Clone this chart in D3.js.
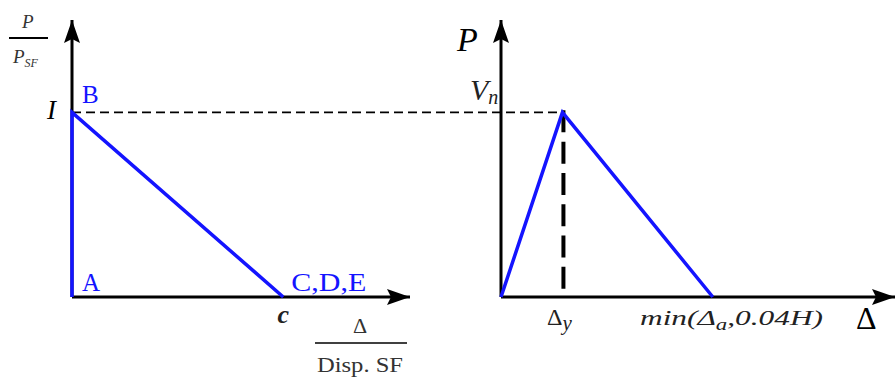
<!DOCTYPE html>
<html>
<head>
<meta charset="utf-8">
<script src="https://cdn.jsdelivr.net/npm/d3@7"></script>
<style>
  body { margin: 0; background: #fff; }
</style>
</head>
<body>
<svg class="chart" width="896" height="380"></svg>
<script>
// left panel: normalized backbone P/P_SF vs Δ/Disp.SF
const leftPoints = [[0, 0], [0, 1], [1, 0]]
const leftLabels = [
  { text: 'A', x: 0, y: 0 },
  { text: 'B', x: 0, y: 1 },
  { text: 'C,D,E', x: 1, y: 0 },
]
// right panel: shear force vs displacement (Δy, Vn) -> min(Δa, 0.04H)
const rightPoints = [[0, 0], [0.29, 1], [1, 0]]

const BLUE = '#1414ff'
const svg = d3.select('svg.chart')
  .attr('font-family', "'Times New Roman', Times, 'Liberation Serif', 'DejaVu Serif', serif")

const xL = d3.scaleLinear().domain([0, 1.6]).range([72, 410])
const yL = d3.scaleLinear().domain([0, 1.5]).range([297, 20])
const xR = d3.scaleLinear().domain([0, 1.86]).range([501, 895])
const yR = yL

function arrowAxis(x0, y0, x1, y1) {
  svg.append('line')
    .attr('x1', x0).attr('y1', y0)
    .attr('x2', x1).attr('y2', y1)
    .style('stroke', '#000').style('stroke-width', 3)
  // arrow head
  const dx = x1 - x0, dy = y1 - y0
  const len = Math.hypot(dx, dy)
  const ux = dx / len, uy = dy / len
  const L = 23, W = 8
  const bx = x1 - ux * L, by = y1 - uy * L
  svg.append('path')
    .attr('d', `M${x1},${y1} L${bx - uy * W},${by + ux * W} L${bx + ux * 4},${by + uy * 4} L${bx + uy * W},${by - ux * W} Z`)
    .style('fill', '#000')
}

// dashed reference line at peak load, across both panels
svg.append('line')
  .attr('x1', xL(0)).attr('y1', yL(1))
  .attr('x2', xR(rightPoints[1][0])).attr('y2', yR(1))
  .style('stroke', '#000').style('stroke-width', 1.6)
  .style('stroke-dasharray', '9,5')

// axes
arrowAxis(xL(0), yL(0), xL(1.6), yL(0))
arrowAxis(xL(0), yL(0), xL(0), yL(1.5))
arrowAxis(xR(0), yR(0), xR(1.86), yR(0))
arrowAxis(xR(0), yR(0), xR(0), yR(1.5))

// vertical dashed line under the peak
svg.append('line')
  .attr('x1', xR(rightPoints[1][0]) + 1).attr('y1', yR(1) - 2)
  .attr('x2', xR(rightPoints[1][0]) + 1).attr('y2', yR(0) - 8)
  .style('stroke', '#000').style('stroke-width', 4)
  .style('stroke-dasharray', '22,9.3')

const line = (xs, ys) => d3.line().x(d => xs(d[0])).y(d => ys(d[1]))

svg.append('path')
  .datum(leftPoints)
  .attr('d', line(xL, yL))
  .style('fill', 'none').style('stroke', BLUE).style('stroke-width', 3.5)

svg.append('path')
  .datum(rightPoints)
  .attr('d', line(xR, yR))
  .style('fill', 'none').style('stroke', BLUE).style('stroke-width', 3.5)
  .style('stroke-linejoin', 'miter')

// left point labels
svg.selectAll('.pt-label')
  .data(leftLabels)
  .enter()
  .append('text')
  .attr('class', 'pt-label')
  .attr('x', d => xL(d.x) + (d.text === 'C,D,E' ? 8 : 10))
  .attr('y', d => yL(d.y) - (d.text === 'B' ? 9 : 6))
  .attr('textLength', d => d.text === 'C,D,E' ? 75 : null)
  .attr('lengthAdjust', 'spacingAndGlyphs')
  .style('fill', BLUE)
  .style('font-size', '25px')
  .text(d => d.text)

// left y tick "1"
svg.append('text')
  .attr('x', 47).attr('y', yL(1) + 7)
  .style('font-size', '27px').style('font-style', 'italic')
  .text('I')

// left x tick "c"
svg.append('text')
  .attr('x', xL(1)).attr('y', 323)
  .attr('text-anchor', 'middle')
  .style('font-size', '26px').style('font-style', 'italic').style('font-weight', 'bold')
  .style('fill', '#222')
  .text('c')

// left y axis title P / P_SF
svg.append('text')
  .attr('x', 22).attr('y', 28)
  .style('font-size', '19px').style('font-style', 'italic').style('fill', '#333')
  .text('P')
svg.append('line')
  .attr('x1', 9).attr('y1', 38).attr('x2', 48).attr('y2', 38)
  .style('stroke', '#000').style('stroke-width', 2)
const psf = svg.append('text')
  .attr('x', 13).attr('y', 63)
  .style('font-size', '19px').style('font-style', 'italic').style('fill', '#333')
psf.append('tspan').text('P')
psf.append('tspan').attr('dy', 4).style('font-size', '12px').text('SF')

// left x axis title Δ / Disp. SF
svg.append('text')
  .attr('x', 360).attr('y', 333)
  .attr('text-anchor', 'middle')
  .style('font-size', '22px').style('fill', '#333')
  .text('Δ')
svg.append('line')
  .attr('x1', 315).attr('y1', 343).attr('x2', 407).attr('y2', 343)
  .style('stroke', '#000').style('stroke-width', 1.5)
svg.append('text')
  .attr('x', 317).attr('y', 372)
  .attr('textLength', 86).attr('lengthAdjust', 'spacingAndGlyphs')
  .style('font-size', '21px').style('fill', '#333')
  .text('Disp. SF')

// right panel axis titles
svg.append('text')
  .attr('x', 457).attr('y', 51)
  .style('font-size', '34px').style('font-style', 'italic')
  .text('P')

const vn = svg.append('text')
  .attr('x', 470).attr('y', 100)
  .style('font-size', '30px').style('font-style', 'italic').style('fill', '#222')
vn.append('tspan').text('V')
vn.append('tspan').attr('dy', 4).style('font-size', '20px').text('n')

svg.append('text')
  .attr('x', 856).attr('y', 329)
  .style('font-size', '32px')
  .text('Δ')

// right x ticks
const dy = svg.append('text')
  .attr('x', 547).attr('y', 325)
  .style('font-size', '24px').style('fill', '#222')
dy.append('tspan').text('Δ')
dy.append('tspan').attr('dy', 5).style('font-style', 'italic').style('font-size', '21px').text('y')

const mn = svg.append('text')
  .attr('x', 640).attr('y', 325)
  .attr('textLength', 183).attr('lengthAdjust', 'spacingAndGlyphs')
  .style('font-size', '22px').style('font-style', 'italic').style('fill', '#222')
mn.append('tspan').text('min(Δ')
mn.append('tspan').attr('dy', 5).style('font-size', '16px').text('a')
mn.append('tspan').attr('dy', -5).text(',0.04H)')
</script>
</body>
</html>
